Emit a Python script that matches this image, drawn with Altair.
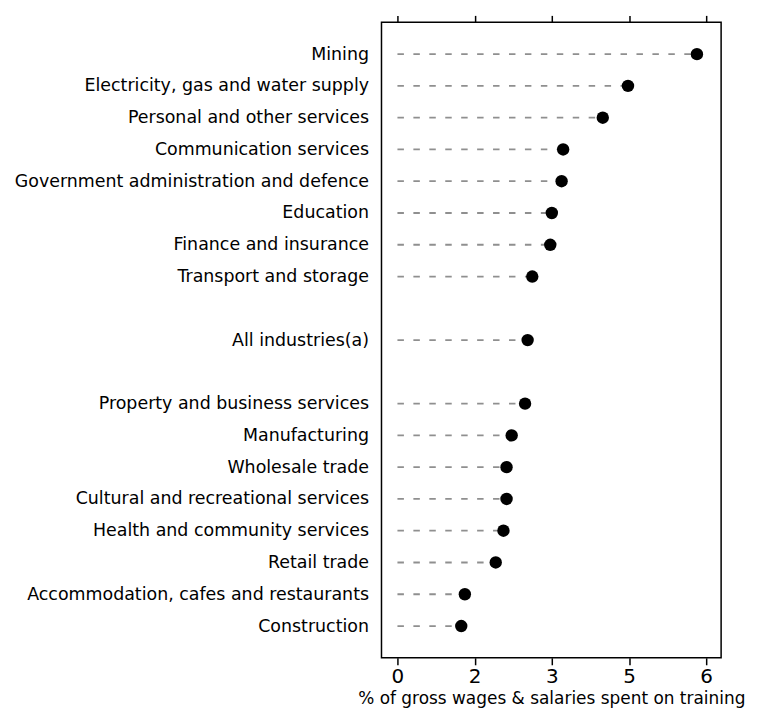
import altair as alt
import pandas as pd

industries = [
    "Mining",
    "Electricity, gas and water supply",
    "Personal and other services",
    "Communication services",
    "Government administration and defence",
    "Education",
    "Finance and insurance",
    "Transport and storage",
    "All industries(a)",
    "Property and business services",
    "Manufacturing",
    "Wholesale trade",
    "Cultural and recreational services",
    "Health and community services",
    "Retail trade",
    "Accommodation, cafes and restaurants",
    "Construction",
]
training_pct = [5.82, 4.48, 3.99, 3.22, 3.19, 3.00, 2.97, 2.62, 2.53,
                2.48, 2.22, 2.12, 2.12, 2.06, 1.91, 1.31, 1.24]
spacer_rows = [" ", "  "]
x_ticks = [0, 1.5, 3, 4.5, 6]

order = industries[:8] + [spacer_rows[0]] + [industries[8]] + [spacer_rows[1]] + industries[9:]

df = pd.DataFrame({"industry": industries, "pct": training_pct})

FONT = "DejaVu Sans"
xscale = alt.Scale(domain=[-0.31, 6.29], nice=False, zero=False)
yenc = alt.Y(
    "industry:N",
    sort=order,
    scale=alt.Scale(type="point", padding=1, domain=order),
    axis=alt.Axis(title=None, ticks=False, domain=False, labelFontSize=17.5,
                  labelPadding=13, labelColor="black", labelFont=FONT,
                  labelLimit=600),
)

base = alt.Chart(df)

rules = base.transform_calculate(start="0").mark_rule(
    color="#8f8f8f", strokeDash=[6.5, 9.5], strokeWidth=1.8
).encode(
    x=alt.X("start:Q", scale=xscale,
            axis=alt.Axis(orient="top", values=x_ticks, labels=False, tickSize=7,
                          tickColor="black", tickWidth=1.5, domain=False,
                          grid=False, title=None, minExtent=0, maxExtent=7)),
    x2="pct:Q",
    y=yenc,
)

points = base.mark_circle(size=155, color="black", opacity=1).encode(
    x=alt.X("pct:Q", scale=xscale,
            axis=alt.Axis(orient="bottom", values=x_ticks, format=".0f", tickSize=7,
                          tickColor="black", tickWidth=1.5, domain=False, grid=False,
                          labelFontSize=20, labelFont=FONT, labelColor="black",
                          labelPadding=2,
                          title="% of gross wages & salaries spent on training",
                          titleFontSize=17, titleFont=FONT, titleFontWeight="normal",
                          titleColor="black", titlePadding=4)),
    y=yenc,
)

chart = (
    alt.layer(rules, points)
    .resolve_axis(x="independent")
    .properties(width=341, height=638)
    .configure_view(stroke="black", strokeWidth=1.5)
    .configure_axis(grid=False)
)

chart.save("out.html", embed_options={"renderer": "svg", "actions": False})
